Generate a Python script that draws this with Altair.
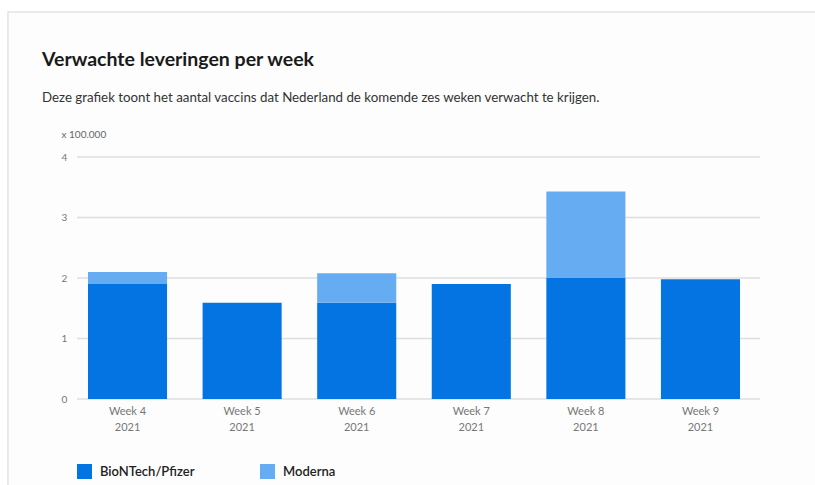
import altair as alt
import pandas as pd

weeks = ["Week 4", "Week 5", "Week 6", "Week 7", "Week 8", "Week 9"]
year = "2021"
pfizer = [1.90, 1.59, 1.59, 1.90, 2.00, 1.98]
moderna = [0.20, 0.0, 0.49, 0.0, 1.43, 0.0]
series = ["BioNTech/Pfizer", "Moderna"]
colors = ["#0474e3", "#66acf3"]
y_ticks = [0, 1, 2, 3, 4]

rows = []
for w, p, m in zip(weeks, pfizer, moderna):
    lab = w + "\n" + year
    rows.append({"week": lab, "vaccin": series[0], "waarde": p, "ord": 0})
    rows.append({"week": lab, "vaccin": series[1], "waarde": m, "ord": 1})
df = pd.DataFrame(rows)
cats = [w + "\n" + year for w in weeks]

W, H = 683, 242

card = alt.Chart(pd.DataFrame({"a": [0]})).mark_rect(
    fill="#fdfdfd", stroke="#e4e4e4", strokeWidth=1.5
).encode(
    x=alt.value(-69), x2=alt.value(800), y=alt.value(-145), y2=alt.value(400)
)

grid = alt.Chart(pd.DataFrame({"t": y_ticks})).mark_rule(
    color="#dedede", strokeWidth=1.5
).encode(
    y=alt.Y("t:Q", scale=alt.Scale(domain=[0, 4])),
    x=alt.value(0), x2=alt.value(W),
)

bars = alt.Chart(df).mark_bar().encode(
    x=alt.X("week:N", sort=cats,
            scale=alt.Scale(domain=cats, range=[11, 663], paddingInner=0.31, paddingOuter=0),
            axis=alt.Axis(title=None, labelExpr="split(datum.label, '\\n')",
                          labelAngle=0, domain=False, ticks=False, zindex=1,
                          labelFont="Lato", labelFontSize=11, labelColor="#777777",
                          labelPadding=6, labelLineHeight=16, labelBaseline="top")),
    y=alt.Y("waarde:Q", stack="zero", scale=alt.Scale(domain=[0, 4], nice=False),
            axis=alt.Axis(values=y_ticks, format="d", grid=False, domain=False, ticks=False,
                          zindex=1, labelAlign="left", labelPadding=16, labelFont="Lato",
                          labelFontSize=10, labelColor="#777777",
                          title="x 100.000", titleAngle=0, titleAlign="left",
                          titleX=-16, titleY=-23, titleBaseline="middle",
                          titleFont="Lato", titleFontSize=10, titleFontWeight="normal",
                          titleColor="#666666")),
    color=alt.Color("vaccin:N", scale=alt.Scale(domain=series, range=colors),
                    legend=alt.Legend(title=None, orient="none", legendX=0, legendY=307,
                                      direction="horizontal", symbolType="square",
                                      symbolSize=225, symbolStrokeWidth=0,
                                      labelFont="Lato", labelFontSize=13, zindex=1,
                                      labelFontWeight=600, labelColor="#222222",
                                      labelOffset=8, columnPadding=65)),
    order=alt.Order("ord:Q"),
)

chart = alt.layer(card, grid, bars).properties(
    width=W, height=H,
    autosize=alt.AutoSizeParams(type="none"),
    padding={"left": 77, "top": 157, "right": 55, "bottom": 86},
    background="white",
    title=alt.TitleParams(
        text="Verwachte leveringen per week",
        subtitle="Deze grafiek toont het aantal vaccins dat Nederland de komende zes weken verwacht te krijgen.",
        anchor="start", frame="group", dx=-35, offset=-94,
        font="Lato", fontSize=19.5, fontWeight="bold", color="#1a1a1a",
        subtitleFont="Lato", subtitleFontSize=13.3, subtitleColor="#333333",
        subtitlePadding=20, zindex=1,
    ),
).configure_view(stroke=None)

chart.save("out.html", embed_options={"renderer": "svg", "actions": False})
